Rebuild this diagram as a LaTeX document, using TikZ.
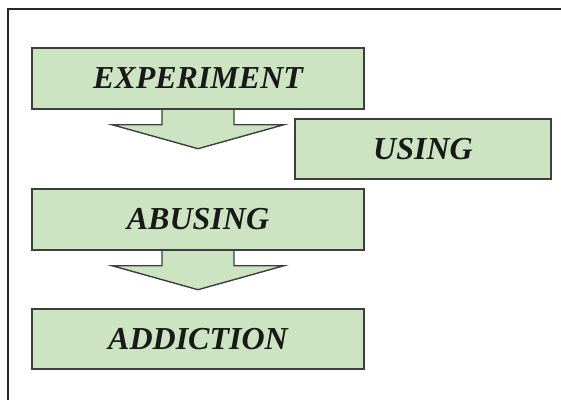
\documentclass[tikz,border=0pt]{standalone}
\usepackage{fontspec}
\setmainfont{Liberation Serif}
\usetikzlibrary{calc,backgrounds}
\definecolor{boxgreen}{RGB}{205,228,195}
\definecolor{edgegray}{RGB}{62,62,62}
\begin{document}
\begin{tikzpicture}[x=1pt,y=-1pt,
  stagebox/.style={draw=edgegray, line width=1.4pt, fill=boxgreen,
    inner sep=0pt, minimum width=332pt, minimum height=61pt,
    font=\fontsize{32}{38}\selectfont\bfseries\itshape, text=black!90},
  arrowfill/.style={fill=boxgreen},
  arrowline/.style={draw=edgegray, line width=1.4pt, line join=miter}]
\useasboundingbox (0,0) rectangle (561,399);
\begin{scope}
\clip (0,0) rectangle (561,399);
\draw[line width=2pt, black!85] (8,430) -- (8,9) -- (600,9);
\end{scope}

\node[stagebox] (exp) at (198,78.5) {EXPERIMENT};
\node[stagebox, minimum width=256pt, minimum height=60pt] (using) at (423,149) {USING};
\node[stagebox] (abu) at (198,219.5) {ABUSING};
\node[stagebox, minimum height=60pt] (add) at (198,339) {ADDICTION};

\begin{scope}[on background layer]
\foreach \b in {exp,abu}{
  \path[arrowfill] ($(\b.south)+(-36,0)$) -- ($(\b.south)+(-36,15)$)
     -- ($(\b.south)+(-86,15)$) -- ($(\b.south)+(0,39)$)
     -- ($(\b.south)+(86,15)$) -- ($(\b.south)+(36,15)$)
     -- ($(\b.south)+(36,0)$) -- cycle;
  \draw[arrowline] ($(\b.south)+(-36,0)$) -- ($(\b.south)+(-36,15)$)
     -- ($(\b.south)+(-86,15)$) -- ($(\b.south)+(0,39)$)
     -- ($(\b.south)+(86,15)$) -- ($(\b.south)+(36,15)$)
     -- ($(\b.south)+(36,0)$);
}
\end{scope}
\end{tikzpicture}
\end{document}
